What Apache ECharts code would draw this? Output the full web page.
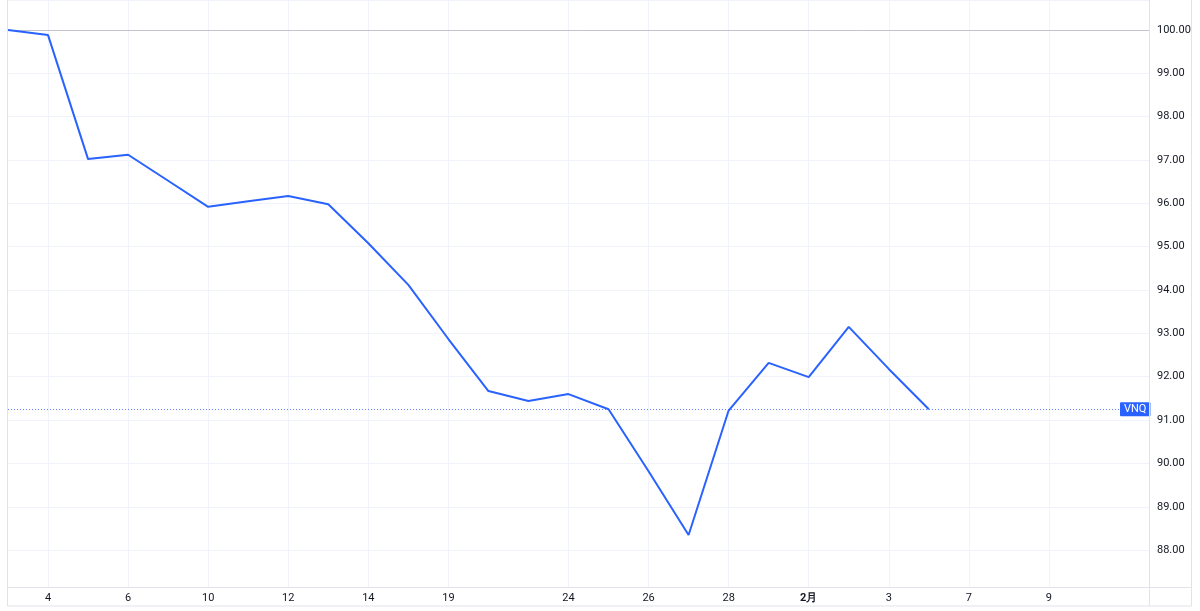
<!DOCTYPE html>
<html>
<head>
<meta charset="utf-8">
<script src="https://cdn.jsdelivr.net/npm/echarts@6/dist/echarts.min.js"></script>
<style>
html,body{margin:0;padding:0;background:#fff;}
#chart{width:1200px;height:611px;}
</style>
</head>
<body>
<div id="chart"></div>
<script>
// Trading days (category per data slot)
const dates = ['1/3','1/4','1/5','1/6','1/7','1/10','1/11','1/12','1/13','1/14','1/18','1/19','1/20','1/21','1/24','1/25','1/26','1/27','1/28','1/31','2/1','2/2','2/3','2/4','2/7','2/8','2/9','2/10','2/11'];
// VNQ normalized values
const values = [100.00, 99.88, 97.02, 97.12, 96.52, 95.92, 96.05, 96.17, 95.98, 95.08, 94.12, 92.87, 91.67, 91.44, 91.60, 91.25, 89.82, 88.35, 91.22, 92.32, 91.99, 93.15, 92.18, 91.25];
// X tick labels
const tickDates = ['1/4','1/6','1/10','1/12','1/14','1/19','1/24','1/26','1/28','2/1','2/3','2/7','2/9'];
const tickLabels = ['4','6','10','12','14','19','24','26','28','2月','3','7','9'];
const boldLabels = ['2月'];
const seriesName = 'VNQ';
const baseline = 100;

const chart = echarts.init(document.getElementById('chart'), null, {renderer: 'canvas'});
const lastVal = values[values.length - 1];
const frameColor = '#e0e3eb';
const gridColor = '#f0f3fa';

const option = {
  animation: false,
  backgroundColor: '#ffffff',
  textStyle: {fontFamily: 'Roboto, "Noto Sans", sans-serif'},
  grid: {left: 8, right: 51, top: 0, bottom: 24, containLabel: false},
  xAxis: {
    type: 'value',
    min: 0,
    max: 28.5,
    minInterval: 1,
    maxInterval: 1,
    splitLine: {show: false},
    axisTick: {show: false},
    axisLine: {show: false},
    axisLabel: {
      margin: 6,
      color: '#131722',
      fontSize: 11,
      showMinLabel: true,
      showMaxLabel: true,
      formatter: function (v) {
        if (Math.abs(v - Math.round(v)) > 1e-6) return '';
        const d = dates[Math.round(v)];
        const k = tickDates.indexOf(d);
        if (k < 0) return '';
        const t = tickLabels[k];
        return boldLabels.indexOf(t) >= 0 ? '{b|' + t + '}' : t;
      },
      rich: {b: {fontWeight: 'bold', fontSize: 11, color: '#131722'}}
    }
  },
  yAxis: {
    type: 'value',
    position: 'right',
    min: 87.15,
    max: 100.69,
    minInterval: 1,
    maxInterval: 1,
    axisLine: {show: false},
    axisTick: {show: false},
    splitLine: {show: true, lineStyle: {color: gridColor, width: 1}},
    axisLabel: {
      margin: 8,
      color: '#131722',
      fontSize: 11,
      formatter: function (v) {
        if (Math.abs(v - Math.round(v)) > 1e-6) return '';
        return Math.round(v).toFixed(2);
      }
    }
  },
  graphic: [
    {type: 'rect', silent: true, z: 100, shape: {x: 7.5, y: -1, width: 1184, height: 607}, style: {fill: 'none', stroke: frameColor, lineWidth: 1}},
    {type: 'line', silent: true, z: 100, shape: {x1: 1149.5, y1: 0, x2: 1149.5, y2: 606}, style: {stroke: frameColor, lineWidth: 1}},
    {type: 'line', silent: true, z: 100, shape: {x1: 7.5, y1: 587.5, x2: 1191.5, y2: 587.5}, style: {stroke: frameColor, lineWidth: 1}}
  ],
  series: [
    {
      type: 'line',
      name: 'grid',
      data: [],
      z: 0,
      silent: true,
      markLine: {
        silent: true,
        z: 0,
        symbol: ['none', 'none'],
        label: {show: false},
        lineStyle: {color: gridColor, type: 'solid', width: 1},
        data: tickDates.map(d => ({xAxis: dates.indexOf(d)}))
      }
    },
    {
      type: 'line',
      name: seriesName,
      data: values.map((v, i) => [i, v]),
      showSymbol: false,
      z: 3,
      lineStyle: {color: '#2962ff', width: 2},
      itemStyle: {color: '#2962ff'},
      markLine: {
        silent: true,
        z: 2,
        symbol: ['none', 'none'],
        data: [
          {yAxis: baseline, lineStyle: {color: '#c3c3cf', type: 'solid', width: 1}, label: {show: false}},
          {yAxis: lastVal, lineStyle: {color: '#5c84ff', type: [1, 2], width: 1},
           label: {show: true, position: 'end', distance: -29, formatter: seriesName,
                   backgroundColor: '#2962ff', color: '#ffffff', fontSize: 11, padding: [2, 4, 1, 4], borderRadius: 1}}
        ]
      }
    }
  ]
};
chart.setOption(option);
</script>
</body>
</html>
